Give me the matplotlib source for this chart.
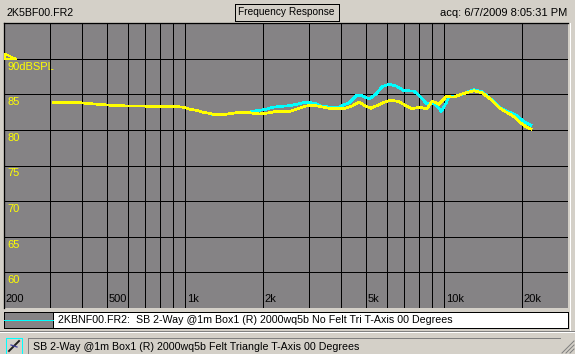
import matplotlib
matplotlib.use("Agg")
import matplotlib.pyplot as plt
from matplotlib.patches import Rectangle, Polygon
from matplotlib.lines import Line2D
import matplotlib.transforms as mtransforms

# ---------------- data ----------------
freq_felt = [310, 376, 434, 487, 542, 759, 906, 991, 1036, 1102, 1162, 1237, 1293, 1413, 1451,
             1587, 1764, 1929, 2052, 2263, 2517, 2679, 2928, 3144, 3436, 3656, 4102, 4404, 4686,
             4900, 5214, 5854, 6228, 6686, 7114, 7504, 7984, 8574, 8964, 9538, 10150, 10898,
             11700, 13016, 13976, 15268, 16248, 17294, 18564, 19406, 20640, 21580]
spl_felt = [83.87, 83.87, 83.67, 83.53, 83.39, 83.31, 83.31, 83.17, 82.93, 82.75, 82.51, 82.33,
            82.13, 82.13, 82.23, 82.41, 82.41, 82.23, 82.33, 82.61, 82.55, 82.89, 83.35, 83.45,
            83.17, 82.97, 82.97, 83.35, 83.91, 83.45, 83.03, 83.87, 84.19, 83.95, 83.39, 82.97,
            83.17, 82.97, 84.05, 83.59, 84.66, 84.61, 85.04, 85.50, 85.22, 84.15, 83.11, 82.51,
            81.85, 81.15, 80.45, 80.12]

freq_nofelt = [310, 376, 434, 487, 542, 759, 906, 991, 1036, 1102, 1162, 1237, 1293, 1413, 1451,
               1587, 1764, 1845, 2052, 2164, 2366, 2517, 2702, 2876, 3144, 3344, 3688, 3924, 4290,
               4604, 4814, 5122, 5450, 5748, 6118, 6510, 6988, 7638, 8200, 8498, 9124, 9538, 9710,
               10150, 10424, 11192, 11910, 13016, 13976, 15268, 16248, 17294, 18894, 20286, 21580]
spl_nofelt = [83.87, 83.87, 83.67, 83.53, 83.39, 83.31, 83.31, 83.17, 82.93, 82.75, 82.51, 82.33,
              82.09, 82.09, 82.23, 82.41, 82.45, 82.65, 82.89, 83.17, 83.31, 83.39, 83.59, 83.87,
              83.77, 83.31, 83.17, 83.21, 83.81, 84.89, 84.80, 84.33, 85.0, 86.06, 86.40, 86.16,
              85.50, 85.46, 84.43, 83.73, 83.73, 83.03, 82.55, 83.73, 84.66, 84.75, 85.13, 85.64,
              85.36, 84.19, 83.21, 82.69, 82.09, 81.15, 80.68]

x_grid = [300, 400, 500, 600, 700, 800, 900, 1000, 2000, 3000, 4000, 5000, 6000, 7000, 8000,
          9000, 10000, 20000]
x_label_freqs = [200, 500, 1000, 2000, 5000, 10000, 20000]
x_labels = ["200", "500", "1k", "2k", "5k", "10k", "20k"]
y_levels = [90, 85, 80, 75, 70, 65, 60]
y_labels = ["90dBSPL", "85", "80", "75", "70", "65", "60"]

file_name = "2K5BF00.FR2"
title = "Frequency Response"
acq = "acq: 6/7/2009 8:05:31 PM"
legend_text = "2KBNF00.FR2:  SB 2-Way @1m Box1 (R) 2000wq5b No Felt Tri T-Axis 00 Degrees"
status_text = "SB 2-Way @1m Box1 (R) 2000wq5b Felt Triangle T-Axis 00 Degrees"

# ---------------- style ----------------
W, H = 575, 354
BG = "#D4D0C8"
PLOT_BG = "#858385"
YEL = "#FFFF00"
CYA = "#00FFFF"
FONT = "Liberation Sans"
FS = 8
FS_S = 7.65
PX = 0.72  # one pixel in points

plt.rcParams["font.family"] = [FONT, "DejaVu Sans"]

fig = plt.figure(figsize=(W / 100, H / 100), dpi=100, facecolor=BG)

def fx(px):
    return px / W

def fy(py):
    return 1 - py / H

ax = fig.add_axes([fx(4), fy(308), (568 - 4) / W, (308 - 23) / H])
ax.set_facecolor(PLOT_BG)
ax.set_xscale("log")
ax.set_xlim(200, 30000)
ax.set_ylim(55, 95)
ax.set_xticks([])
ax.set_yticks([])
ax.xaxis.set_minor_locator(matplotlib.ticker.NullLocator())
for s in ["right", "bottom"]:
    ax.spines[s].set_visible(False)
for s in ["left", "top"]:
    ax.spines[s].set_color("black")
    ax.spines[s].set_linewidth(PX * 1.3)

for xv in x_grid:
    ax.axvline(xv, color="black", lw=PX, antialiased=False, zorder=1)
for yv in y_levels:
    ax.axhline(yv, color="black", lw=PX, antialiased=False, zorder=1)

ax.plot(freq_nofelt, spl_nofelt, color=CYA, lw=PX * 1.7, antialiased=False, zorder=3)
ax.plot(freq_felt, spl_felt, color=YEL, lw=PX * 1.7, antialiased=False, zorder=4)

# x labels (inside, bottom)
trans_x = mtransforms.blended_transform_factory(ax.transData, ax.transAxes)
for f, lab in zip(x_label_freqs, x_labels):
    t = mtransforms.offset_copy(trans_x, fig=fig, x=1.5, y=9, units="dots")
    ax.text(f, 0, lab, transform=t, ha="left", va="center", fontsize=FS, color="black", zorder=5)

# y labels (inside, left)
trans_y = mtransforms.blended_transform_factory(ax.transAxes, ax.transData)
for lv, lab in zip(y_levels, y_labels):
    t = mtransforms.offset_copy(trans_y, fig=fig, x=3, y=-3, units="dots")
    ax.text(0, lv, lab, transform=t, ha="left", va="top", fontsize=FS, color=YEL, zorder=0.5)

# reference marker triangle
fig.add_artist(Polygon([(fx(5), fy(54)), (fx(5), fy(59)), (fx(16), fy(59))], closed=True,
                       fill=False, ec=YEL, lw=PX, antialiased=False))

# header texts
fig.text(fx(6), fy(12.5), file_name, ha="left", va="center", fontsize=FS_S, color="black")
fig.text(fx(286.5), fy(12), title, ha="center", va="center", fontsize=7.3, color="black")
fig.add_artist(Rectangle((fx(234.5), fy(20.5)), (339 - 234.5) / W, 16 / H, transform=fig.transFigure,
                         fill=False, ec="black", lw=PX, antialiased=False))
fig.text(fx(567), fy(12.5), acq, ha="right", va="center", fontsize=FS, color="black")

# right light strip
fig.add_artist(Line2D([fx(569.5), fx(569.5)], [fy(23), fy(331)], color="white", lw=PX))

# legend area
fig.add_artist(Rectangle((fx(4), fy(328)), (53 - 4) / W, 16 / H, transform=fig.transFigure,
                         fc=PLOT_BG, ec="black", lw=PX, antialiased=False))
fig.add_artist(Line2D([fx(4), fx(53)], [fy(320), fy(320)], color=CYA, lw=PX, antialiased=False))
fig.add_artist(Rectangle((fx(53), fy(328)), (568 - 53) / W, 16 / H, transform=fig.transFigure,
                         fc="white", ec="black", lw=PX, antialiased=False))
fig.text(fx(58), fy(320), legend_text, ha="left", va="center", fontsize=FS_S, color="black")

# separator
fig.add_artist(Line2D([0, 1], [fy(331), fy(331)], color="#808080", lw=PX, antialiased=False))
fig.add_artist(Line2D([0, 1], [fy(332), fy(332)], color="white", lw=PX, antialiased=False))

# status bar
fig.add_artist(Rectangle((fx(6), fy(354)), 16 / W, 16 / H, transform=fig.transFigure,
                         fc=BG, ec=CYA, lw=PX, antialiased=False))
fig.add_artist(Line2D([fx(9), fx(19)], [fy(351), fy(341)], color="#202020", lw=1.4))
fig.add_artist(Line2D([fx(11), fx(17)], [fy(345), fy(347)], color="#4040A0", lw=0.9))
fig.add_artist(Line2D([fx(28), fx(560)], [fy(338), fy(338)], color="#808080", lw=PX, antialiased=False))
fig.add_artist(Line2D([fx(28), fx(28)], [fy(338), fy(354)], color="#808080", lw=PX, antialiased=False))
fig.text(fx(33), fy(346.5), status_text, ha="left", va="center", fontsize=FS_S, color="black")

# resize grip
for k in range(3):
    o = 4 * k
    fig.add_artist(Line2D([fx(562 + o), fx(574)], [fy(353), fy(341 + o)], color="#808080", lw=PX))

fig.savefig("out.png", dpi=100, facecolor=BG)
